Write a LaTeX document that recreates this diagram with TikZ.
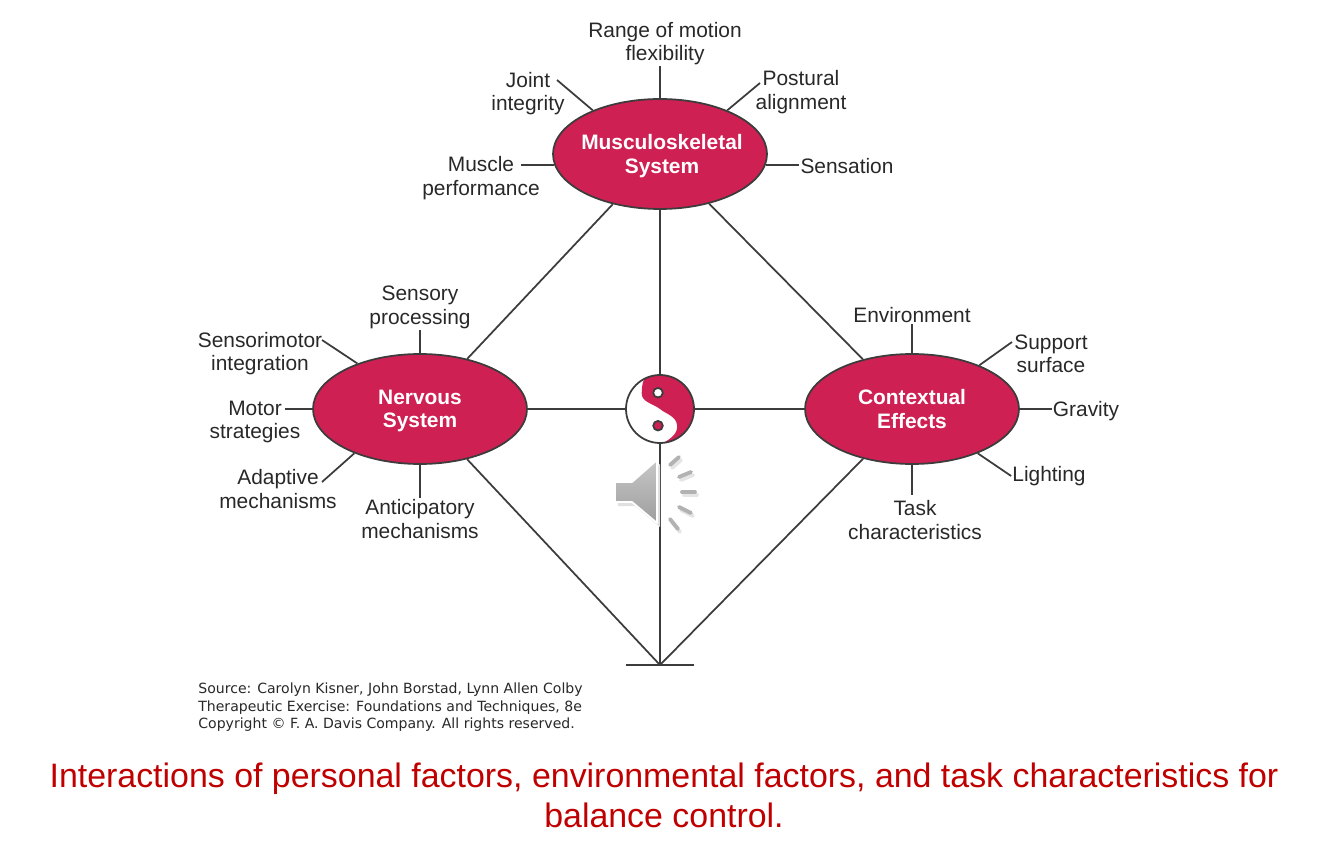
\documentclass[tikz,border=0pt]{standalone}
\usepackage{fontspec}
\setmainfont{Liberation Sans}
\newfontfamily\fuentefija{DejaVu Sans}
\usepackage{tikz}
\usetikzlibrary{positioning,shapes.geometric,calc}
\definecolor{carmin}{RGB}{207,32,84}
\definecolor{linea}{RGB}{60,60,60}
\definecolor{textoetq}{RGB}{40,40,40}
\definecolor{titulo}{RGB}{192,0,0}
\begin{document}
\begin{tikzpicture}[
  x=0.02cm, y=-0.02cm,
  sist/.style={ellipse, minimum width=4.28cm, minimum height=2.2cm, inner sep=0pt, fill=carmin, draw=linea, line width=1pt},
  nombre/.style={align=center, inner sep=0pt, text=white, font=\fontsize{11.9}{13.4}\selectfont\bfseries},
  etq/.style={align=center, inner sep=0.5pt, text=textoetq, font=\fontsize{11.9}{13.4}\selectfont},
  guia/.style={draw=linea, line width=1pt},
  rayo/.style={line width=2.2pt, line cap=round}
]
\useasboundingbox (0,0) rectangle (1334,864);
% sistemas
\node[sist] (musc) at (660,154) {};
\node[sist] (nerv) at (420,409) {};
\node[sist] (ctx) at (912,409) {};
\node[nombre] (musctxt) at (662,156) {Musculoskeletal\\System};
\node[nombre] (nervtxt) at (420,411) {Nervous\\System};
\node[nombre] (ctxtxt) at (912,409) {Contextual\\Effects};
\coordinate (base) at (660,665);
\coordinate (baseizq) at (626,665);
\coordinate (baseder) at (694,665);
% yin yang
\node[circle, minimum size=1.36cm, inner sep=0pt, fill=white] (yin) at (660,409) {};
\begin{scope}
  \clip (648,370) -- (700,370) -- (700,450) -- (662,450) -- (663.5,442.8)
    .. controls (672,438) and (678,433) .. (677,425)
    .. controls (676,416) and (666,414) .. (660,409)
    .. controls (654,404) and (641,402) .. (641.7,393)
    .. controls (642,388) and (642,383) .. (644.4,378.8) -- cycle;
  \fill[carmin] (yin.center) circle[radius=34];
\end{scope}
\draw[guia] (yin.center) circle[radius=34];
\draw[guia, fill=white] (658,392.7) circle[radius=4.8];
\draw[guia, fill=carmin] (658,425.7) circle[radius=4.8];
% lineas centrales
\draw[guia] (musc) -- (nerv);
\draw[guia] (musc) -- (ctx);
\draw[guia] (musc) -- (yin);
\draw[guia] (nerv) -- (yin);
\draw[guia] (yin) -- (ctx);
\draw[guia] (yin) -- (base);
\draw[guia] (nerv) -- (base);
\draw[guia] (ctx) -- (base);
\draw[guia] (baseizq) -- (baseder);
% Musculoskeletal
\node[etq] (rango) at (665,43.5) {Range of motion\\flexibility};
\node[etq] (joint) at (528,93.5) {Joint\\integrity};
\node[etq] (postural) at (801,92) {Postural\\alignment};
\node[etq] (muscle) at (481,178) {Muscle\\performance};
\node[etq] (sensation) at (847,166) {Sensation};
\coordinate (jointfin) at (557,80);
\coordinate (posturalfin) at (760,83);
\coordinate (musclefin) at (521,165);
\draw[guia] (musc.north) -- (musc.north |- rango.south);
\draw[guia] (musc.147) -- (jointfin);
\draw[guia] (musc.33) -- (posturalfin);
\draw[guia] (musc.186) -- (musclefin);
\draw[guia] (musc.354) -- (musc.354 -| sensation.west);
% Nervous
\node[etq] (sensory) at (420,307.5) {Sensory\\processing};
\node[etq] (sensori) at (260,353.5) {Sensorimotor\\integration};
\node[etq] (motor) at (255,422) {Motor\\strategies};
\node[etq] (adaptive) at (278,489) {Adaptive\\mechanisms};
\node[etq] (anticip) at (420,519) {Anticipatory\\mechanisms};
\coordinate (sensorifin) at (322,340);
\coordinate (motorfin) at (285,409);
\coordinate (adaptivefin) at (322,482);
\draw[guia] (nerv.north) -- (sensory.south);
\draw[guia] (nerv.144) -- (sensorifin);
\draw[guia] (nerv.west) -- (motorfin);
\draw[guia] (nerv.214.5) -- (adaptivefin);
\draw[guia] (nerv.south) -- (nerv.south |- anticip.north);
% Contextual
\node[etq] (environ) at (912,315) {Environment};
\node[etq] (support) at (1051,354) {Support\\surface};
\node[etq] (gravity) at (1086,411) {Gravity};
\node[etq] (lighting) at (1049,476) {Lighting};
\node[etq] (task) at (915,520) {Task\\characteristics};
\coordinate (supportfin) at (1012,342);
\coordinate (taskfin) at (912,495);
\draw[guia] (ctx.north) -- (environ.south);
\draw[guia] (ctx.33.5) -- (supportfin);
\draw[guia] (ctx.east) -- (ctx.east -| gravity.west);
\draw[guia] (ctx.326) -- (lighting.west);
\draw[guia] (ctx.south) -- (taskfin);
% altavoz
\fill[black!12] (618,486) -- (635,486) -- (660,464) -- (660,527) -- (635,506) -- (618,506) -- cycle;
\draw[white, line width=1pt, line join=round, top color=black!22, bottom color=black!38]
  (615,482) -- (632,482) -- (657,460) -- (657,523) -- (632,502) -- (615,502) -- cycle;
\foreach \xa/\ya/\xb/\yb in {670/465/679/457, 679/477/691/472, 682/492/695/492, 679/507/691/513, 670/519/678/529}{
  \draw[rayo, black!10] (\xa+2,\ya+3) -- (\xb+2,\yb+3);
  \draw[rayo, black!30] (\xa,\ya) -- (\xb,\yb);
}
% fuente y titulo
\node[anchor=west, inner sep=0pt, align=left, text=textoetq, font=\fuentefija\fontsize{8}{10}\selectfont] (fuente) at (198,707.5)
  {Source: Carolyn Kisner, John Borstad, Lynn Allen Colby\\Therapeutic Exercise: Foundations and Techniques, 8e\\Copyright © F. A. Davis Company. All rights reserved.};
\node[align=center, inner sep=0pt, text=titulo, font=\fontsize{19.3}{22.8}\selectfont] (leyenda) at (664,795)
  {Interactions of personal factors, environmental factors, and task characteristics for\\balance control.};
\end{tikzpicture}
\end{document}
